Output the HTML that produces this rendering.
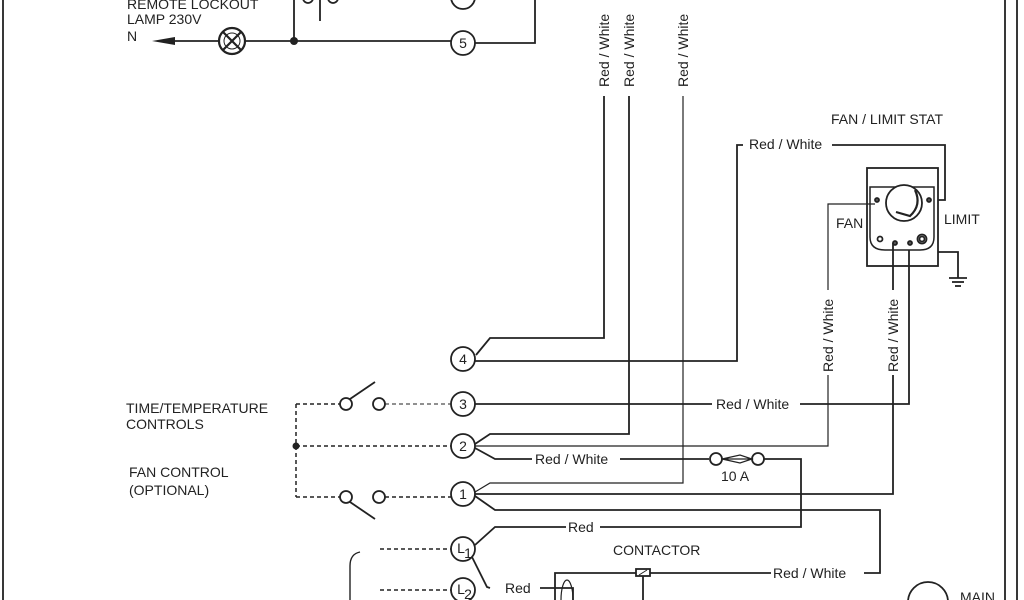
<!DOCTYPE html>
<html><head><style>
html,body{margin:0;padding:0;background:#fff;}
svg{display:block;font-family:"Liberation Sans",sans-serif;}
text{fill:#222;font-size:14px;}
</style></head><body>
<svg width="1024" height="600" viewBox="0 0 1024 600" xmlns="http://www.w3.org/2000/svg">
<g stroke="#222" stroke-width="1.8" fill="none">
<line x1="3" y1="0" x2="3" y2="600"/>
<line x1="1005" y1="0" x2="1005" y2="600"/>
<line x1="1017" y1="0" x2="1017" y2="600"/>
<!-- top -->
<line x1="175" y1="41" x2="219" y2="41"/>
<line x1="245" y1="41" x2="451" y2="41"/>
<line x1="294" y1="0" x2="294" y2="41"/>
<line x1="320" y1="0" x2="320" y2="21"/>
<circle cx="308" cy="-2" r="5"/><circle cx="333" cy="-2" r="5"/>
<circle cx="463" cy="-3" r="12"/>
<circle cx="463" cy="43" r="12"/>
<polyline points="475,43 535,43 535,0"/>
<circle cx="232" cy="41" r="13" stroke-width="2.2"/>
<line x1="223" y1="32" x2="241" y2="50" stroke-width="2.2"/><line x1="241" y1="32" x2="223" y2="50" stroke-width="2.2"/>
<circle cx="232" cy="41" r="8" stroke-width="1"/>
<!-- verticals -->
<polyline points="604,96 604,338 490,338 476,355"/>
<polyline points="629,96 629,434 490,434 475,444"/>
<polyline points="683,96 683,483 490,483 475,492" stroke-width="1.2"/>
<!-- 4 -->
<circle cx="463" cy="359" r="12"/>
<polyline points="475,361 737,361 737,145 743,145"/>
<polyline points="832,145 945,145 945,200 938,200"/>
<!-- 3 -->
<circle cx="463" cy="404" r="12"/>
<line x1="475" y1="404" x2="712" y2="404"/>
<polyline points="800,404 909,404 909,250"/>
<!-- 2 -->
<circle cx="463" cy="446" r="12"/>
<polyline points="475,446 828,446 828,375" stroke-width="1.2"/>
<polyline points="828,290 828,204 875,204" stroke-width="1.2"/>
<polyline points="475,448 495,459 532,459"/>
<line x1="620" y1="459" x2="709" y2="459"/>
<circle cx="716" cy="459" r="6"/><circle cx="758" cy="459" r="6"/>
<path d="M722,459 L740,455 L752,459 L740,463 Z M722,459 L752,459" stroke-width="1.2"/>
<polyline points="764,459 801,459 801,527 600,527"/>
<polyline points="566,527 495,527 475,545"/>
<!-- 1 -->
<circle cx="463" cy="494" r="12"/>
<polyline points="475,494 893,494 893,375"/>
<line x1="893" y1="290" x2="893" y2="243"/>
<polyline points="475,496 495,510 880,510 880,573 864,573"/>
<polyline points="771,573 650,573"/>
<rect x="636" y="569" width="14" height="7"/>
<line x1="639" y1="575" x2="647" y2="570" stroke-width="1"/>
<polyline points="636,573 555,573 555,600"/>
<line x1="643" y1="576" x2="643" y2="600"/>
<!-- L -->
<circle cx="463" cy="549" r="12"/>
<circle cx="463" cy="590" r="12"/>
<polyline points="472,557 487,587 490,588"/>
<polyline points="540,588 573,588 573,600"/>
<ellipse cx="567" cy="600" rx="6" ry="20" stroke-width="1.2"/>
<path d="M360,552 Q350,554 350,566 L350,600" stroke-width="1.4"/>
<circle cx="928" cy="602" r="20"/>
<!-- switches -->
<circle cx="346" cy="404" r="6"/><circle cx="379" cy="404" r="6"/>
<line x1="350" y1="399" x2="375" y2="382"/>
<circle cx="346" cy="497" r="6"/><circle cx="379" cy="497" r="6"/>
<line x1="350" y1="502" x2="375" y2="519"/>
<!-- fan limit stat -->
<rect x="867" y="168" width="71" height="98"/>
<path d="M870,187 L934,187 L934,237 Q934,250 920,250 L885,250 Q870,250 870,237 Z" stroke-width="1.5"/>
<circle cx="904" cy="203" r="18" fill="#fff"/>
<path d="M915,190 Q922,205 910,216 L896,212" stroke-width="2.2"/>
<circle cx="877" cy="200" r="2" fill="#555"/><circle cx="929" cy="200" r="2" fill="#555"/>
<circle cx="880" cy="239" r="2.5"/><circle cx="895" cy="243" r="2" fill="#555"/><circle cx="910" cy="243" r="2" fill="#555"/>
<circle cx="922" cy="239" r="4.5"/><circle cx="922" cy="239" r="2.5"/>
<polyline points="938,252 958,252 958,278"/>
<line x1="949" y1="278" x2="967" y2="278"/><line x1="952" y1="282" x2="964" y2="282"/><line x1="955" y1="286" x2="961" y2="286"/>
</g>
<g stroke="#222" stroke-width="1.5" stroke-dasharray="4,3" fill="none">
<line x1="296" y1="404" x2="340" y2="404"/>
<line x1="385" y1="404" x2="451" y2="404" stroke-width="1"/>
<line x1="296" y1="404" x2="296" y2="497"/>
<line x1="296" y1="446" x2="451" y2="446"/>
<line x1="296" y1="497" x2="340" y2="497"/>
<line x1="385" y1="497" x2="451" y2="497"/>
<line x1="380" y1="549" x2="451" y2="549"/>
<line x1="380" y1="590" x2="451" y2="590"/>
</g>
<circle cx="294" cy="41" r="4" fill="#222"/>
<circle cx="296" cy="446" r="3.5" fill="#222"/>
<path d="M152,41 L175,37 L175,45 Z" fill="#222"/>
<text x="127" y="9">REMOTE LOCKOUT</text>
<text x="127" y="24">LAMP 230V</text>
<text x="127" y="41">N</text>
<g font-size="15" text-anchor="middle">
<text x="463" y="48">5</text><text x="463" y="364">4</text><text x="463" y="409">3</text>
<text x="463" y="451">2</text><text x="463" y="499">1</text>
<text x="461" y="553">L</text><text x="468" y="558" font-size="11">1</text>
<text x="461" y="594">L</text><text x="468" y="599" font-size="11">2</text>
</g>
<text x="126" y="413">TIME/TEMPERATURE</text>
<text x="126" y="429">CONTROLS</text>
<text x="129" y="477">FAN CONTROL</text>
<text x="129" y="495">(OPTIONAL)</text>
<text x="716" y="409">Red / White</text>
<text x="535" y="464">Red / White</text>
<text x="721" y="481">10 A</text>
<text x="568" y="532">Red</text>
<text x="505" y="593">Red</text>
<text x="613" y="555">CONTACTOR</text>
<text x="773" y="578">Red / White</text>
<text x="749" y="149">Red / White</text>
<text x="831" y="124">FAN / LIMIT STAT</text>
<text x="836" y="228">FAN</text>
<text x="944" y="224">LIMIT</text>
<text x="960" y="602">MAIN</text>
<text transform="translate(609,87) rotate(-90)">Red / White</text>
<text transform="translate(634,87) rotate(-90)">Red / White</text>
<text transform="translate(688,87) rotate(-90)">Red / White</text>
<text transform="translate(833,372) rotate(-90)">Red / White</text>
<text transform="translate(898,372) rotate(-90)">Red / White</text>
</svg>
</body></html>
